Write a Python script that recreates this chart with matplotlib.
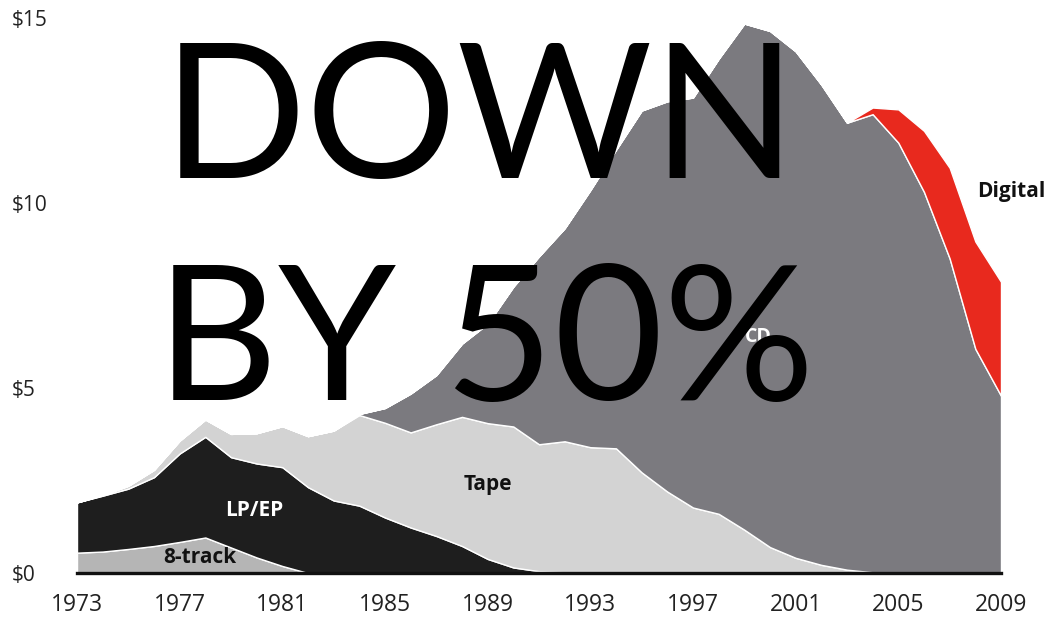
import matplotlib
matplotlib.use("Agg")
import matplotlib.pyplot as plt

# Music sales by format, 1973-2009 ($)
years = list(range(1973, 2010))
eight_track = [0.55, 0.58, 0.65, 0.73, 0.84, 0.96, 0.69, 0.42, 0.19, 0.0] + [0.0] * 27
lp_ep = [1.36, 1.51, 1.63, 1.86, 2.39, 2.72, 2.44, 2.54, 2.67, 2.32,
         1.96, 1.82, 1.50, 1.23, 1.00, 0.73, 0.38, 0.15, 0.05, 0.02] + [0.0] * 17
tape = [0.0, 0.02, 0.08, 0.20, 0.35, 0.47, 0.63, 0.82, 1.11, 1.38,
        1.89, 2.45, 2.56, 2.57, 3.02, 3.49, 3.67, 3.81, 3.43, 3.54,
        3.40, 3.37, 2.72, 2.20, 1.77, 1.60, 1.17, 0.70, 0.41, 0.22,
        0.09, 0.02] + [0.0] * 5
cd = [0.0] * 11 + [0.03, 0.40, 1.05, 1.33, 1.98, 2.69, 3.78, 5.08, 5.76,
                   6.95, 8.07, 9.78, 10.55, 11.08, 12.30, 13.68, 13.95, 13.69, 12.98,
                   12.08, 12.38, 11.63, 10.30, 8.50, 6.06, 4.79]
digital = [0.0] * 31 + [0.18, 0.90, 1.65, 2.45, 2.90, 3.08]

colors = ["#b5b5b5", "#1e1e1e", "#d3d3d3", "#7b7a7f", "#e8291e"]

fig = plt.figure(figsize=(10.49, 6.17), dpi=100)
ax = fig.add_axes([77 / 1049, 44 / 617, 924 / 1049, 555 / 617])

ax.stackplot(years, eight_track, lp_ep, tape, cd, digital,
             colors=colors, edgecolor="white", linewidth=1.0)

ax.set_xlim(1973, 2009)
ax.set_ylim(0, 15)
ax.set_xticks(range(1973, 2010, 4))
ax.set_yticks([0, 5, 10, 15])
ax.set_yticklabels(["$0", "$5", "$10", "$15"], ha="left")
ax.tick_params(axis="y", length=0, pad=47, labelsize=15, labelcolor="#222222")
ax.tick_params(axis="x", length=0, pad=14.5, labelsize=16.5, labelcolor="#222222")
for lab in ax.get_xticklabels() + ax.get_yticklabels():
    lab.set_fontfamily("Open Sans")

for side in ["top", "right", "left"]:
    ax.spines[side].set_visible(False)
ax.spines["bottom"].set_linewidth(2.4)
ax.spines["bottom"].set_color("#111111")
ax.spines["bottom"].set_zorder(5)

# series labels
lbl = dict(fontfamily="Open Sans", fontweight="bold", ha="center", va="center")
ax.text(1977.8, 0.43, "8-track", fontsize=15, color="#111111", **lbl)
ax.text(1979.9, 1.70, "LP/EP", fontsize=15, color="white", **lbl)
ax.text(1989.0, 2.40, "Tape", fontsize=15, color="#111111", **lbl)
ax.text(1999.55, 6.38, "CD", fontsize=14, color="white", **lbl)
ax.text(2009.4, 10.3, "Digital", fontsize=15, color="#111111", clip_on=False, **lbl)

# big overlay headline
fig.text(480 / 1049, (617 - 178) / 617, "DOWN", fontsize=136, fontfamily="Lato",
         color="black", ha="center", va="baseline", zorder=10)
fig.text(485 / 1049, (617 - 400) / 617, "BY 50%", fontsize=136, fontfamily="Lato",
         color="black", ha="center", va="baseline", zorder=10)

fig.savefig("out.png", dpi=100, facecolor="white")
